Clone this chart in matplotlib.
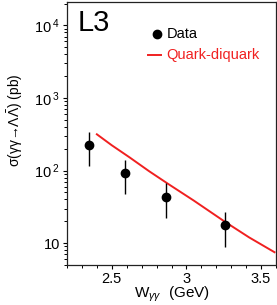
import math
import matplotlib
matplotlib.use("Agg")
import matplotlib.pyplot as plt
from matplotlib.ticker import FixedLocator, FuncFormatter, LogLocator, MultipleLocator, NullFormatter

plt.rcParams['font.family'] = ['Liberation Sans', 'DejaVu Sans']
plt.rcParams['mathtext.fontset'] = 'custom'
plt.rcParams['mathtext.rm'] = 'Liberation Sans'
plt.rcParams['mathtext.it'] = 'Liberation Sans:italic'
plt.rcParams['mathtext.bf'] = 'Liberation Sans:bold'

# Data
w_data = [2.345, 2.59, 2.86, 3.26]
sigma_data = [224, 93, 43.5, 18]
err_hi = [337, 139, 67, 26.8]
err_lo = [115, 47, 22, 8.9]

w_model = [2.40, 2.50, 2.617, 2.75, 2.88, 3.05, 3.258, 3.42, 3.59]
sigma_model = [316, 223, 153, 98, 65, 38.5, 19.7, 12.0, 7.5]

fig = plt.figure(figsize=(2.77, 3.05), dpi=100)
ax = fig.add_axes([67/277, 40/305, 209/277, 263/305])

ax.set_yscale('log')
ax.set_xlim(2.2, 3.6)
ax.set_ylim(5, 2.1e4)

ax.plot(w_model, sigma_model, color='#f02020', lw=1.4)

yerr = [[s - l for s, l in zip(sigma_data, err_lo)], [h - s for s, h in zip(sigma_data, err_hi)]]
ax.errorbar(w_data, sigma_data, yerr=yerr, fmt='o', color='black', ms=6, elinewidth=1.0, capsize=0)

ax.xaxis.set_major_locator(FixedLocator([2.5, 3.0, 3.5]))
ax.xaxis.set_minor_locator(MultipleLocator(0.1))
ax.xaxis.set_major_formatter(FuncFormatter(lambda v, p: ('%g' % v)))

ax.yaxis.set_major_locator(FixedLocator([10, 100, 1000, 10000]))
ax.yaxis.set_minor_locator(LogLocator(base=10, subs=range(2, 10)))
ax.yaxis.set_minor_formatter(NullFormatter())

def yfmt(v, p):
    if abs(v - 10) < 1e-6:
        return '10'
    e = int(round(math.log10(v)))
    return r'10$^{\;%d}$' % e

ax.yaxis.set_major_formatter(FuncFormatter(yfmt))

ax.tick_params(axis='both', which='major', direction='out', length=3, width=0.8, labelsize=10.5, pad=2)
ax.tick_params(axis='both', which='minor', direction='out', length=2, width=0.7)
ax.tick_params(axis='x', labelsize=10.5, pad=2)
ax.tick_params(top=False, right=False)

for s in ax.spines.values():
    s.set_linewidth(0.9)
    s.set_color('#222222')

ax.set_xlabel(r'W$_{\gamma\gamma}$  (GeV)', fontsize=11, labelpad=-1)
ax.set_ylabel('σ(γγ→Λ' + r'$\mathrm{\bar{\Lambda}}$' + ') (pb)', fontsize=10, labelpad=1)
ax.yaxis.set_label_coords(-0.2, 0.55)

ax.text(0.05, 0.975, 'L3', transform=ax.transAxes, fontsize=21, va='top', ha='left')

# legend
ax.plot([0.43], [0.878], 'o', color='black', ms=6, transform=ax.transAxes, clip_on=False)
ax.text(0.475, 0.878, 'Data', transform=ax.transAxes, fontsize=10.5, va='center', ha='left')
ax.plot([0.388, 0.448], [0.798, 0.798], color='#f02020', lw=1.4, transform=ax.transAxes)
ax.text(0.475, 0.798, 'Quark-diquark', transform=ax.transAxes, fontsize=10.5, va='center', ha='left', color='#f02020')

fig.savefig('out.png', dpi=100)
